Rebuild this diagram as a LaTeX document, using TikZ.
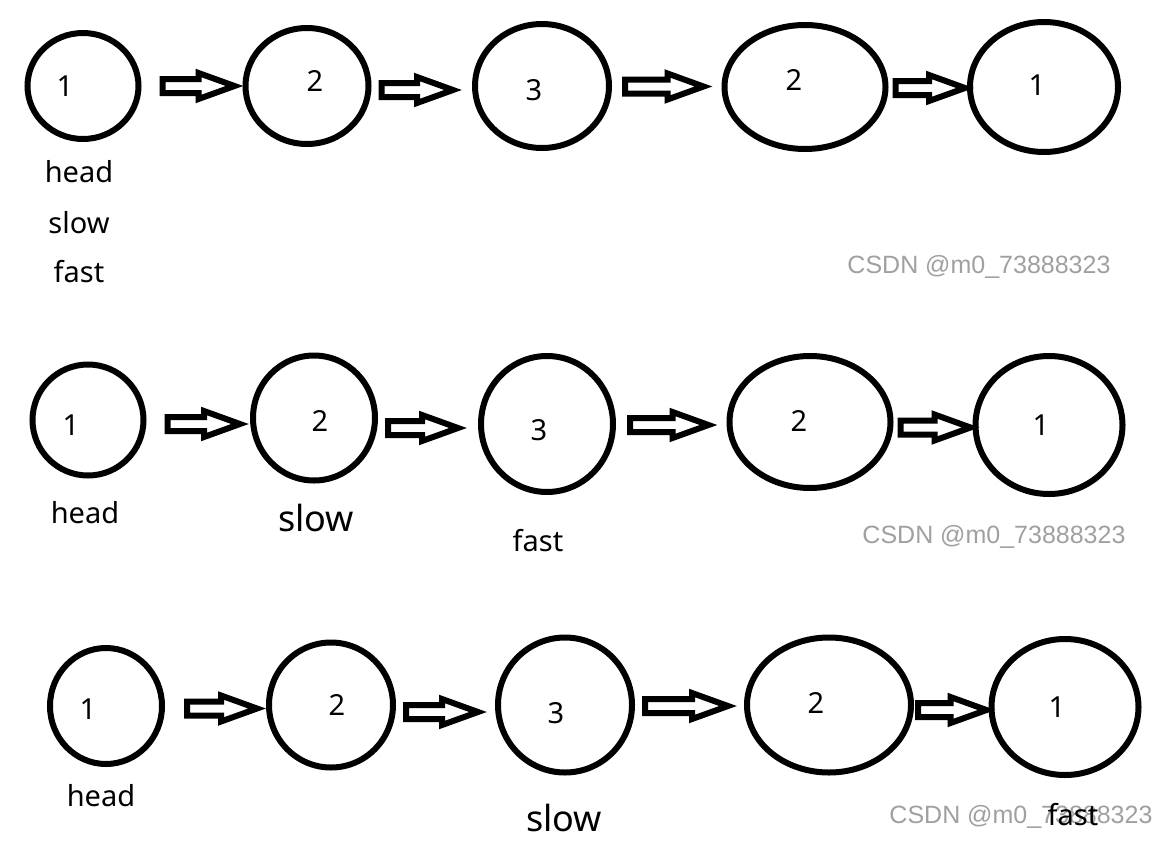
\documentclass[tikz,border=0pt]{standalone}
\usepackage{fontspec}
\setmainfont{Noto Sans}
\newfontfamily\wmfont{Liberation Sans}
\usetikzlibrary{shapes.geometric,calc}
\definecolor{wmgray}{RGB}{160,160,160}
\tikzset{
  listnode/.style={ellipse, draw=black, line width=6pt, inner sep=0pt},
  numtext/.style={font=\fontsize{29}{33}\selectfont, inner sep=0pt},
  ptrtext/.style={font=\fontsize{29}{33}\selectfont, inner sep=0pt},
  bigptr/.style={font=\fontsize{36}{40}\selectfont, inner sep=0pt},
  wmtext/.style={font=\wmfont\fontsize{25}{29}\selectfont, text=wmgray, inner sep=0pt},
  blockline/.style={draw=black, line width=6pt, fill=white},
}
% #1 from node, #2 to node, #3 start gap, #4 end gap, #5 vertical offset (down, px)
\newcommand\blockarrow[5]{%
  \path[blockline] let \p1=(#1.east), \p2=(#2.west),
      \p3=($(#1.center)!0.5!(#2.center)$),
      \n1={\y3-#5pt}, \n2={\x1+#3pt}, \n3={\x2-#4pt}, \n4={\x2-#4pt-36pt} in
    ({\n2},{\n1+7pt}) -- ({\n4},{\n1+7pt})
    -- ({\n4},{\n1+13pt}) -- ({\n3},{\n1})
    -- ({\n4},{\n1-13pt}) -- ({\n4},{\n1-7pt})
    -- ({\n2},{\n1-7pt}) -- cycle;
}
\begin{document}
\begin{tikzpicture}[x=1pt,y=-1pt]
\useasboundingbox[fill=white] (0,0) rectangle (1170,854);

% ---------- Row 1 ----------
\node[listnode, minimum width=111pt, minimum height=106pt] (A1) at (83,86) {};
\node[listnode, minimum width=123pt, minimum height=116pt] (A2) at (307,86) {};
\node[listnode, minimum width=134pt, minimum height=124pt] (A3) at (542,86) {};
\node[listnode, minimum width=161pt, minimum height=124pt] (A4) at (805,87) {};
\node[listnode, minimum width=148pt, minimum height=130pt] (A5) at (1044,87) {};
\node[numtext] (a1t) at (65,86) {1};
\node[numtext] (a2t) at (315,81) {2};
\node[numtext] (a3t) at (534,90) {3};
\node[numtext] (a4t) at (794,80) {2};
\node[numtext] (a5t) at (1037,85) {1};
\blockarrow{A1}{A2}{21}{8}{0}
\blockarrow{A2}{A3}{10}{19}{4}
\blockarrow{A3}{A4}{13}{18}{0}
\blockarrow{A4}{A5}{7}{2}{1}
\node[ptrtext] (a1head) at (79,172) {head};
\node[ptrtext] (a1slow) at (79,223) {slow};
\node[ptrtext] (a1fast) at (79,272) {fast};
\node[wmtext] (wm1) at (979,267) {CSDN @m0\_73888323};

% ---------- Row 2 ----------
\node[listnode, minimum width=111pt, minimum height=111pt] (B1) at (88,420) {};
\node[listnode, minimum width=122pt, minimum height=125pt] (B2) at (314,418) {};
\node[listnode, minimum width=132pt, minimum height=136pt] (B3) at (547,424) {};
\node[listnode, minimum width=161pt, minimum height=132pt] (B4) at (810,422) {};
\node[listnode, minimum width=147pt, minimum height=138pt] (B5) at (1049,425) {};
\node[numtext] (b1t) at (71,425) {1};
\node[numtext] (b2t) at (320,421) {2};
\node[numtext] (b3t) at (539,430) {3};
\node[numtext] (b4t) at (799,421) {2};
\node[numtext] (b5t) at (1041,425) {1};
\blockarrow{B1}{B2}{21}{10}{5}
\blockarrow{B2}{B3}{10}{20}{7}
\blockarrow{B3}{B4}{14}{18}{2}
\blockarrow{B4}{B5}{7}{2}{4}
\node[ptrtext] (b1head) at (85,513) {head};
\node[bigptr] (b2slow) at (316,518) {slow};
\node[ptrtext] (b3fast) at (538,541) {fast};
\node[wmtext] (wm2) at (994,537) {CSDN @m0\_73888323};

% ---------- Row 3 ----------
\node[listnode, minimum width=112pt, minimum height=116pt] (C1) at (106,706) {};
\node[listnode, minimum width=124pt, minimum height=125pt] (C2) at (331,705) {};
\node[listnode, minimum width=134pt, minimum height=135pt] (C3) at (565,705) {};
\node[listnode, minimum width=164pt, minimum height=135pt] (C4) at (829,705) {};
\node[listnode, minimum width=147pt, minimum height=136pt] (C5) at (1065,707) {};
\node[numtext] (c1t) at (88,709) {1};
\node[numtext] (c2t) at (337,705) {2};
\node[numtext] (c3t) at (556,713) {3};
\node[numtext] (c4t) at (816,703) {2};
\node[numtext] (c5t) at (1057,707) {1};
\blockarrow{C1}{C2}{22}{9}{3}
\blockarrow{C2}{C3}{10}{17}{7}
\blockarrow{C3}{C4}{10}{16}{1}
\blockarrow{C4}{C5}{4}{2}{4}
\node[ptrtext] (c1head) at (101,796) {head};
\node[bigptr] (c3slow) at (564,818) {slow};
\node[wmtext] (wm3) at (1021,817) {CSDN @m0\_73888323};
\node[ptrtext] (c5fast) at (1073,815) {fast};
\end{tikzpicture}
\end{document}
